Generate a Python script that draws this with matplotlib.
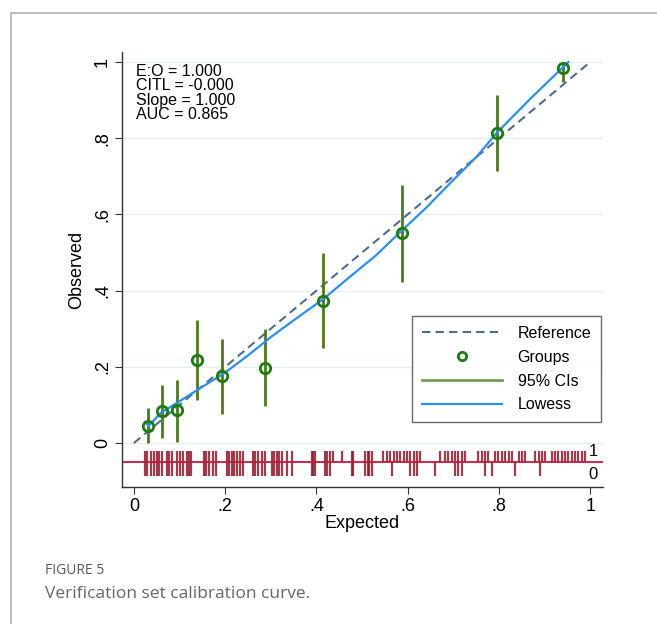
import matplotlib
matplotlib.use('Agg')
import matplotlib.pyplot as plt
from matplotlib.patches import Rectangle
from matplotlib.lines import Line2D

plt.rcParams['font.family'] = ['Liberation Sans', 'DejaVu Sans']

# grouped calibration points
grp_x = [0.031, 0.061, 0.094, 0.138, 0.194, 0.287, 0.414, 0.588, 0.795, 0.941]
grp_y = [0.045, 0.084, 0.087, 0.218, 0.175, 0.198, 0.373, 0.550, 0.814, 0.983]
ci_lo = [0.000, 0.013, 0.003, 0.113, 0.076, 0.097, 0.249, 0.423, 0.715, 0.948]
ci_hi = [0.092, 0.152, 0.165, 0.323, 0.272, 0.299, 0.500, 0.677, 0.913, 0.998]

# lowess smoother
low_x = [0.025, 0.032, 0.060, 0.094, 0.140, 0.200, 0.250, 0.300, 0.350, 0.414,
         0.474, 0.530, 0.583, 0.640, 0.693, 0.750, 0.795, 0.870, 0.952]
low_y = [0.055, 0.045, 0.080, 0.105, 0.140, 0.185, 0.230, 0.278, 0.322, 0.377,
         0.437, 0.492, 0.553, 0.617, 0.682, 0.750, 0.814, 0.905, 1.000]

# rug of predicted risks: outcome=1 (up) and outcome=0 (down)
rug_1 = [0.024, 0.029, 0.037, 0.044, 0.050, 0.056, 0.061, 0.072, 0.077, 0.083,
         0.094, 0.101, 0.107, 0.116, 0.121, 0.126, 0.153, 0.158, 0.164, 0.174,
         0.180, 0.203, 0.209, 0.214, 0.219, 0.225, 0.232, 0.240, 0.260, 0.265,
         0.273, 0.280, 0.287, 0.302, 0.307, 0.313, 0.319, 0.324, 0.335, 0.346,
         0.390, 0.393, 0.397, 0.419, 0.424, 0.430, 0.437, 0.455, 0.477, 0.481,
         0.507, 0.512, 0.516, 0.521, 0.547, 0.554, 0.561, 0.569, 0.576, 0.583,
         0.591, 0.598, 0.605, 0.613, 0.620, 0.627, 0.671, 0.682, 0.689, 0.697,
         0.704, 0.711, 0.719, 0.726, 0.755, 0.762, 0.770, 0.777, 0.792, 0.799,
         0.806, 0.814, 0.821, 0.828, 0.843, 0.850, 0.857, 0.879, 0.887, 0.894,
         0.901, 0.916, 0.923, 0.930, 0.938, 0.945, 0.952, 0.960, 0.967, 0.974,
         0.982, 0.989]
rug_0 = [0.024, 0.029, 0.037, 0.044, 0.050, 0.056, 0.061, 0.072, 0.077, 0.083,
         0.094, 0.101, 0.107, 0.116, 0.121, 0.126, 0.153, 0.158, 0.164, 0.174,
         0.180, 0.203, 0.209, 0.214, 0.219, 0.225, 0.232, 0.240, 0.260, 0.265,
         0.273, 0.280, 0.287, 0.302, 0.307, 0.313, 0.319, 0.324, 0.335, 0.346,
         0.390, 0.393, 0.397, 0.419, 0.424, 0.430, 0.477, 0.481, 0.507, 0.512,
         0.516, 0.521, 0.565, 0.605, 0.613, 0.620, 0.660, 0.704, 0.711, 0.719,
         0.770, 0.784, 0.836, 0.890]

xticks = [0, 0.2, 0.4, 0.6, 0.8, 1]
tick_lbl = ['0', '.2', '.4', '.6', '.8', '1']
stats_txt = ['E:O = 1.000', 'CITL = -0.000', 'Slope = 1.000', 'AUC = 0.865']

fig = plt.figure(figsize=(6.57, 6.24), dpi=100)
fig.patches.append(Rectangle((11/657, -0.1), 0.99, 1 - 13/624 + 0.1,
                             transform=fig.transFigure, fill=False,
                             edgecolor='#b0b0b0', linewidth=1.2))

ax = fig.add_axes([0.1857, 0.2191, 0.7321, 0.698])
ax.set_xlim(-0.026, 1.028)
ax.set_ylim(-0.116, 1.027)

for yv in xticks:
    ax.axhline(yv, color='#e6eff2', linewidth=1, zorder=0)

ax.plot([0, 1], [0, 1], color='#4f6d8a', linestyle=(0, (4, 2.5)), linewidth=1.5, zorder=2)
ax.vlines(grp_x, ci_lo, ci_hi, color='#4e7a1e', linewidth=2, zorder=3)
ax.plot(low_x, low_y, color='#2b8ff0', linewidth=1.6, zorder=4)
ax.plot(grp_x, grp_y, 'o', markerfacecolor='none', markeredgecolor='#1f7a14',
        markersize=7.5, markeredgewidth=2, zorder=5)

# rug plot
ax.vlines(rug_1, -0.05, -0.021, color='#8e1b2c', linewidth=1.6, alpha=0.85)
ax.vlines(rug_0, -0.086, -0.05, color='#8e1b2c', linewidth=1.6, alpha=0.85)
ax.plot([-0.026, 1.028], [-0.05, -0.05], color='#c8173f', linewidth=1.3)
ax.text(0.996, -0.021, '1', fontsize=12, ha='left', va='center')
ax.text(0.996, -0.083, '0', fontsize=12, ha='left', va='center')

ax.text(0.005, 0.994, '\n'.join(stats_txt), fontsize=11.5, va='top', ha='left',
        linespacing=0.93)

for s in ['top', 'right']:
    ax.spines[s].set_visible(False)
for s in ['left', 'bottom']:
    ax.spines[s].set_color('#333333')
    ax.spines[s].set_linewidth(1)

ax.set_xticks(xticks)
ax.set_xticklabels(tick_lbl, fontsize=13)
ax.set_yticks(xticks)
ax.set_yticklabels(tick_lbl, fontsize=13, rotation=90, va='center')
ax.tick_params(direction='out', length=5, color='#333333', pad=3)
ax.set_xlabel('Expected', fontsize=13, labelpad=0)
ax.set_ylabel('Observed', fontsize=13, labelpad=6)

handles = [Line2D([], [], color='#4f6d8a', linestyle=(0, (4, 2.5)), linewidth=1.5),
           Line2D([], [], marker='o', linestyle='none', markerfacecolor='none',
                  markeredgecolor='#1f7a14', markersize=6, markeredgewidth=2),
           Line2D([], [], color='#7a9a5a', linewidth=2),
           Line2D([], [], color='#2b8ff0', linewidth=1.6)]
leg = ax.legend(handles, ['Reference', 'Groups', '95% CIs', 'Lowess'],
                loc='lower right', bbox_to_anchor=(0.996, 0.150), fontsize=11.5,
                frameon=True, fancybox=False, edgecolor='#444444',
                handlelength=5.0, handletextpad=1.0, borderpad=0.6,
                labelspacing=0.55, borderaxespad=0)
leg.get_frame().set_linewidth(1)

fig.text(45/657, 1 - 571/624, 'FIGURE 5', fontsize=10, color='#5a5a5a',
         family=['Open Sans', 'DejaVu Sans'], va='center')
fig.text(45/657, 1 - 594/624, 'Verification set calibration curve.', fontsize=12.5,
         color='#666666', family=['Open Sans', 'DejaVu Sans'], va='center')

fig.savefig('out.png', dpi=100)
